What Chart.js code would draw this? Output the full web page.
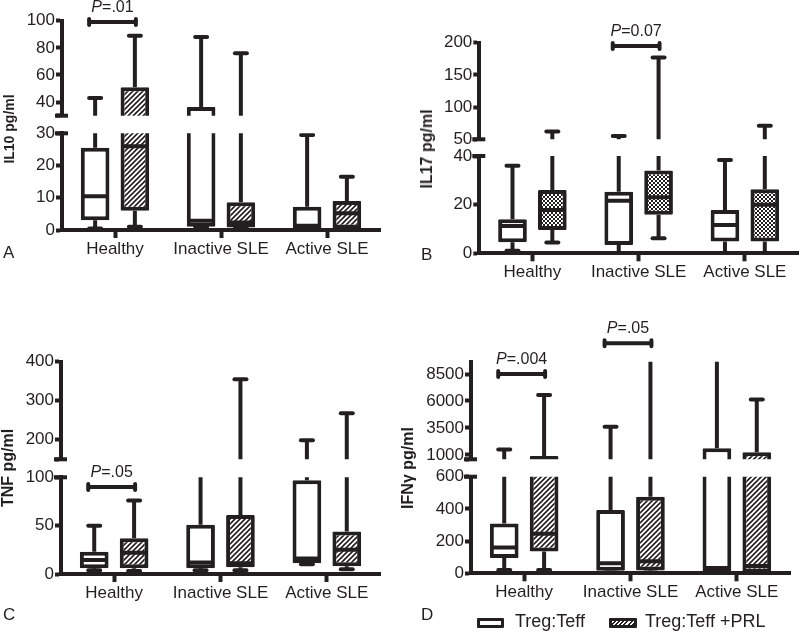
<!DOCTYPE html>
<html>
<head>
<meta charset="utf-8">
<script src="https://cdn.jsdelivr.net/npm/chart.js@4.4.0/dist/chart.umd.min.js"></script>
<style>
html,body{margin:0;padding:0;background:#fff;}
body{width:800px;height:638px;position:relative;overflow:hidden;font-family:'Liberation Sans',Arial,Helvetica,sans-serif;color:#231f20;}
canvas{position:absolute;}
.txt{position:absolute;white-space:nowrap;line-height:1;}
.ytitle{position:absolute;white-space:nowrap;line-height:1;font-weight:bold;transform:translate(-50%,-50%) rotate(-90deg);}
.icon{position:absolute;box-sizing:border-box;border:3px solid #231f20;border-radius:1px;background:#fff;}
</style>
</head>
<body>
<script>
// ---------------- DATA ----------------
const categories = ['Healthy', 'Inactive SLE', 'Active SLE'];
const seriesNames = ['Treg:Teff', 'Treg:Teff +PRL'];
// each entry: [min, q1, median, q3, max] per category

// A: IL10 pg/ml
const il10Teff = [[0.5, 3, 10.5, 25.5, 43], [1, 1, 2.9, 36.5, 88], [0, 0.3, 1.3, 7.2, 29.5]];
const il10Prl  = [[1, 6, 26, 51, 89], [0.5, 0.8, 2.3, 8.6, 76], [0.3, 0.5, 5.2, 9, 16.5]];
const il10UpperTicks = [30, 40, 60, 80, 100];
const il10UpperLabels = ['', '40', '60', '80', '100'];
const il10LowerTicks = [0, 10, 20, 30];
const il10LowerLabels = ['0', '10', '20', '30'];
const il10Brackets = [{category: 0, segment: 'upper', value: 99, label: '=.01'}];

// B: IL17 pg/ml
const il17Teff = [[1, 4.5, 11.2, 14, 36], [0, 3.4, 21.6, 25.3, 55], [0, 4.8, 11.6, 17.8, 38.4]];
const il17Prl  = [[4.4, 9.6, 17.8, 26, 62], [6.2, 15.8, 23, 34, 177], [0, 4.8, 20, 26.3, 71]];
const il17UpperTicks = [50, 100, 150, 200];
const il17UpperLabels = ['50', '100', '150', '200'];
const il17LowerTicks = [0, 20, 40];
const il17LowerLabels = ['0', '20', '40'];
const il17Brackets = [{category: 1, segment: 'upper', value: 195, label: '=0.07'}];

// C: TNF pg/ml
const tnfTeff = [[4, 6, 14.5, 23, 50], [4, 6, 12, 51, 120], [10, 11, 16, 97, 199]];
const tnfPrl  = [[3, 6, 22, 37, 76], [4, 7, 11, 61, 355], [5, 8, 25, 44, 268]];
const tnfUpperTicks = [150, 200, 300, 400];
const tnfUpperLabels = ['', '200', '300', '400'];
const tnfLowerTicks = [0, 50, 100];
const tnfLowerLabels = ['0', '50', '100'];
const tnfBrackets = [{category: 0, segment: 'lower', value: 90, label: '=.05'}];

// D: IFNγ pg/ml
const ifnTeff = [[20, 95, 160, 310, 1500], [5, 16, 62, 393, 3620], [0, 2, 33, 1620, 10000]];
const ifnPrl  = [[20, 135, 245, 900, 6550], [5, 18, 75, 476, 10000], [0, 5, 45, 1250, 6150]];
const ifnUpperTicks = [600, 1000, 3500, 6000, 8500];
const ifnUpperLabels = ['', '1000', '3500', '6000', '8500'];
const ifnLowerTicks = [0, 200, 400, 600];
const ifnLowerLabels = ['0', '200', '400', '600'];
const ifnBrackets = [
  {category: 0, segment: 'upper', value: 8500, label: '=.004'},
  {category: 1, segment: 'upper', value: 11340, label: '=.05'}
];

// ---------------- STYLE / LAYOUT ----------------
const INK = '#231f20';
const FAMILY = "'Liberation Sans', Arial, Helvetica, sans-serif";
Chart.defaults.font.family = FAMILY;
Chart.defaults.color = INK;

function makePattern(kind) {
  const c = document.createElement('canvas');
  if (kind === 'hatch') {
    c.width = 5; c.height = 5;
    const x = c.getContext('2d');
    x.fillStyle = '#fff'; x.fillRect(0, 0, 5, 5);
    x.strokeStyle = INK; x.lineWidth = 1.6;
    x.beginPath();
    x.moveTo(-1, 6); x.lineTo(6, -1);
    x.moveTo(-1, 1); x.lineTo(1, -1);
    x.moveTo(4, 6); x.lineTo(6, 4);
    x.stroke();
    return x.createPattern(c, 'repeat');
  }
  c.width = 4; c.height = 4;
  const x = c.getContext('2d');
  x.fillStyle = INK; x.fillRect(0, 0, 4, 4);
  x.fillStyle = '#fff'; x.fillRect(0, 0, 2, 2); x.fillRect(2, 2, 2, 2);
  return x.createPattern(c, 'repeat');
}

const panels = [
  {teff: il10Teff, prl: il10Prl, pattern: 'hatch', brackets: il10Brackets,
   upper: {min: 30, max: 100, ticks: il10UpperTicks, labels: il10UpperLabels},
   lower: {min: 0, max: 30, ticks: il10LowerTicks, labels: il10LowerLabels},
   geo: {left: 62, right: 380, canvasTop: 0, upper: {top: 20.7, bottom: 115.7}, lower: {top: 133.3, bottom: 230}}},
  {teff: il17Teff, prl: il17Prl, pattern: 'check', brackets: il17Brackets,
   upper: {min: 50, max: 200, ticks: il17UpperTicks, labels: il17UpperLabels},
   lower: {min: 0, max: 40, ticks: il17LowerTicks, labels: il17LowerLabels},
   geo: {left: 479.3, right: 798, canvasTop: 0, upper: {top: 42.7, bottom: 139.3}, lower: {top: 156, bottom: 253.3}}},
  {teff: tnfTeff, prl: tnfPrl, pattern: 'hatch', brackets: tnfBrackets,
   upper: {min: 150, max: 400, ticks: tnfUpperTicks, labels: tnfUpperLabels},
   lower: {min: 0, max: 100, ticks: tnfLowerTicks, labels: tnfLowerLabels},
   geo: {left: 61, right: 380, canvasTop: 300, upper: {top: 361.7, bottom: 459.3}, lower: {top: 477.3, bottom: 574}}},
  {teff: ifnTeff, prl: ifnPrl, pattern: 'hatch', brackets: ifnBrackets,
   upper: {min: 600, max: 9640, ticks: ifnUpperTicks, labels: ifnUpperLabels},
   lower: {min: 0, max: 600, ticks: ifnLowerTicks, labels: ifnLowerLabels},
   geo: {left: 471, right: 790, canvasTop: 300, upper: {top: 361.7, bottom: 459.3}, lower: {top: 476.7, bottom: 573.3}}}
];

// whiskers, caps and medians, positioned through the chart's own scales
const boxPlugin = {
  id: 'boxWhisker',
  afterDatasetsDraw(chart) {
    const ctx = chart.ctx, a = chart.chartArea, ys = chart.scales.y;
    const inRange = v => v >= ys.min && v <= ys.max;
    ctx.save();
    ctx.beginPath();
    ctx.rect(a.left, a.top, a.right - a.left, a.bottom - a.top);
    ctx.clip();
    ctx.strokeStyle = INK;
    ctx.lineWidth = 4;
    chart.data.datasets.forEach((ds, di) => {
      const meta = chart.getDatasetMeta(di);
      meta.data.forEach((bar, i) => {
        const s = ds.stats[i];
        const py = v => ys.getPixelForValue(v);
        const x = bar.x, hw = bar.width / 2;
        ctx.lineCap = 'butt';
        ctx.beginPath();
        ctx.moveTo(x, py(s[3])); ctx.lineTo(x, py(s[4]));
        ctx.moveTo(x, py(s[1])); ctx.lineTo(x, py(s[0]));
        ctx.stroke();
        if (inRange(s[2])) {
          ctx.beginPath();
          ctx.moveTo(x - hw + 3, py(s[2])); ctx.lineTo(x + hw - 3, py(s[2]));
          ctx.stroke();
        }
        ctx.lineCap = 'round';
        ctx.beginPath();
        if (inRange(s[4])) { ctx.moveTo(x - 6, py(s[4])); ctx.lineTo(x + 6, py(s[4])); }
        if (inRange(s[0])) { ctx.moveTo(x - 6, py(s[0])); ctx.lineTo(x + 6, py(s[0])); }
        ctx.stroke();
      });
    });
    ctx.restore();
  }
};

function makeDecor(isLower, brackets) {
  return {
    id: 'decor',
    afterDraw(chart) {
      const ctx = chart.ctx, a = chart.chartArea, ys = chart.scales.y;
      ctx.save();
      ctx.strokeStyle = INK; ctx.fillStyle = INK;
      ctx.lineWidth = 4; ctx.lineCap = 'butt';
      const by = isLower ? a.top : a.bottom;
      ctx.beginPath(); ctx.moveTo(a.left - 7, by); ctx.lineTo(a.left + 6, by); ctx.stroke();
      brackets.forEach(b => {
        const x1 = chart.getDatasetMeta(0).data[b.category].x - 6;
        const x2 = chart.getDatasetMeta(1).data[b.category].x + 1;
        const y = ys.getPixelForValue(b.value);
        ctx.lineCap = 'butt';
        ctx.beginPath(); ctx.moveTo(x1, y); ctx.lineTo(x2, y); ctx.stroke();
        ctx.lineCap = 'round';
        ctx.beginPath();
        ctx.moveTo(x1, y - 3); ctx.lineTo(x1, y + 3);
        ctx.moveTo(x2, y - 3); ctx.lineTo(x2, y + 3);
        ctx.stroke();
        const fi = 'italic 16px ' + FAMILY, fr = '16px ' + FAMILY;
        ctx.textBaseline = 'alphabetic'; ctx.textAlign = 'left';
        ctx.font = fi; const wp = ctx.measureText('P').width;
        ctx.font = fr; const wr = ctx.measureText(b.label).width;
        const sx = (x1 + x2) / 2 - (wp + wr) / 2, ty = y - 10;
        ctx.font = fi; ctx.fillText('P', sx, ty);
        ctx.font = fr; ctx.fillText(b.label, sx + wp, ty);
      });
      ctx.restore();
    }
  };
}

const YW = 50, XH = 34;
function buildSegment(p, segName) {
  const isLower = segName === 'lower';
  const seg = p[segName];
  const g = p.geo[segName];
  const cLeft = Math.floor(p.geo.left - YW - 8);
  const cTop = Math.floor(isLower ? g.top - 16 : p.geo.canvasTop);
  const w = Math.ceil(p.geo.right + 3 - cLeft);
  const h = Math.ceil((isLower ? g.bottom + XH + 4 : g.bottom + 12) - cTop);
  const cv = document.createElement('canvas');
  cv.width = w; cv.height = h;
  cv.style.left = cLeft + 'px'; cv.style.top = cTop + 'px';
  cv.style.width = w + 'px'; cv.style.height = h + 'px';
  document.body.appendChild(cv);
  const pad = {
    left: p.geo.left - YW - cLeft,
    right: cLeft + w - p.geo.right,
    top: g.top - cTop,
    bottom: cTop + h - g.bottom - (isLower ? XH : 0)
  };
  const fill = makePattern(p.pattern);
  const common = {borderColor: INK, borderWidth: 4, borderSkipped: false, borderRadius: 1,
                  categoryPercentage: 0.75, barPercentage: 0.72, clip: 0};
  const xScale = {
    display: isLower, offset: true,
    grid: {offset: false, drawOnChartArea: false, drawTicks: true, tickLength: 8, tickWidth: 4, tickColor: INK, color: INK},
    border: {display: true, color: INK, width: 4},
    ticks: {font: {size: 17}, color: INK, padding: 1, maxRotation: 0, autoSkip: false}
  };
  if (isLower) xScale.afterFit = s => { s.height = XH; };
  new Chart(cv, {
    type: 'bar',
    data: {
      labels: categories,
      datasets: [
        Object.assign({label: seriesNames[0], data: p.teff.map(s => [s[1], s[3]]), stats: p.teff, backgroundColor: '#fff'}, common),
        Object.assign({label: seriesNames[1], data: p.prl.map(s => [s[1], s[3]]), stats: p.prl, backgroundColor: fill}, common)
      ]
    },
    options: {
      responsive: false, animation: false, devicePixelRatio: 1,
      layout: {padding: pad},
      plugins: {legend: {display: false}, tooltip: {enabled: false}},
      scales: {
        x: xScale,
        y: {
          min: seg.min, max: seg.max,
          afterBuildTicks: s => { s.ticks = seg.ticks.map(v => ({value: v})); },
          afterFit: s => { s.width = YW; },
          grid: {drawOnChartArea: false, drawTicks: true, tickLength: 6, tickWidth: 4, tickColor: INK, color: INK},
          border: {display: true, color: INK, width: 4},
          ticks: {font: {size: 17}, color: INK, padding: 1, autoSkip: false,
                  callback: v => { const i = seg.ticks.indexOf(v); return i < 0 ? '' : seg.labels[i]; }}
        }
      }
    },
    plugins: [boxPlugin, makeDecor(isLower, p.brackets.filter(b => b.segment === segName))]
  });
}

panels.forEach(p => { buildSegment(p, 'upper'); buildSegment(p, 'lower'); });

// ---------------- TEXT (titles, panel letters, legend) ----------------
function addText(text, x, baseline, size, extra) {
  const d = document.createElement('div');
  d.className = 'txt';
  d.textContent = text;
  d.style.fontSize = size + 'px';
  d.style.left = x + 'px';
  d.style.top = (baseline - 0.8465 * size) + 'px';
  if (extra) Object.assign(d.style, extra);
  document.body.appendChild(d);
}
function addTitle(text, cx, cy, size) {
  const d = document.createElement('div');
  d.className = 'ytitle';
  d.textContent = text;
  d.style.fontSize = size + 'px';
  d.style.left = cx + 'px';
  d.style.top = cy + 'px';
  document.body.appendChild(d);
}
addTitle('IL10 pg/ml', 9, 129, 14);
addTitle('IL17 pg/ml', 427, 149, 16);
addTitle('TNF pg/ml', 8, 468, 16);
addTitle('IFNγ pg/ml', 408, 468, 16);

addText('A', 3, 258, 17);
addText('B', 421, 260, 17);
addText('C', 3, 620, 17);
addText('D', 421, 620, 17);

// legend
const ic1 = document.createElement('div');
ic1.className = 'icon';
Object.assign(ic1.style, {left: '477px', top: '618px', width: '27px', height: '10px'});
document.body.appendChild(ic1);
const ic2 = document.createElement('div');
ic2.className = 'icon';
Object.assign(ic2.style, {left: '609px', top: '618px', width: '28px', height: '10px',
  background: 'repeating-linear-gradient(135deg,#fff 0px,#fff 1.6px,#231f20 1.6px,#231f20 3px)'});
document.body.appendChild(ic2);
addText(seriesNames[0], 515, 627.5, 18);
addText(seriesNames[1], 645, 627.5, 18);
</script>
</body>
</html>
